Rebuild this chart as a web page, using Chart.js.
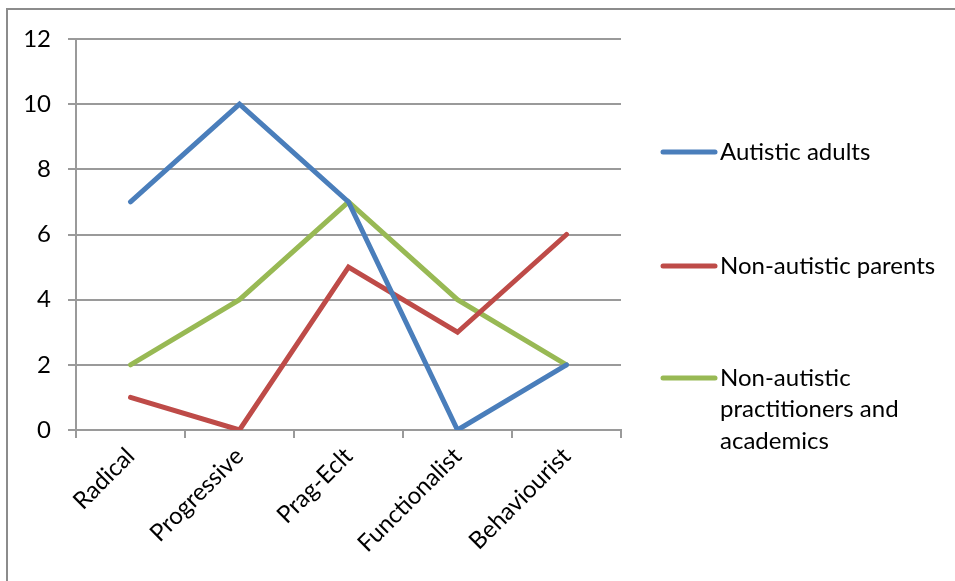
<!DOCTYPE html>
<html>
<head>
<meta charset="utf-8">
<script src="https://cdn.jsdelivr.net/npm/chart.js@4/dist/chart.umd.min.js"></script>
<style>
  html, body { margin: 0; padding: 0; background: #fff; }
  #wrap { width: 955px; height: 581px; position: relative; }
</style>
</head>
<body>
<div id="wrap"><canvas id="c" width="955" height="581"></canvas></div>
<script>
// Categories along the x axis
const categories = ['Radical', 'Progressive', 'Prag-Eclt', 'Functionalist', 'Behaviourist'];

// Series values
const autisticAdults = [7, 10, 7, 0, 2];
const nonAutisticParents = [1, 0, 5, 3, 6];
const practitionersAcademics = [2, 4, 7, 4, 2];

// Legend labels (wrapped lines)
const seriesNames = [
  ['Autistic adults'],
  ['Non-autistic parents'],
  ['Non-autistic', 'practitioners and', 'academics']
];

// Y axis ticks
const yTicks = [0, 2, 4, 6, 8, 10, 12];

const FONT = 'Lato, "Liberation Sans", sans-serif';
const FSIZE = 24;
const GRID = '#9a9a9a';

// Frame around the chart and a side legend
const framePlugin = {
  id: 'frame',
  beforeDraw(chart) {
    const ctx = chart.ctx;
    ctx.save();
    ctx.fillStyle = '#ffffff';
    ctx.fillRect(0, 0, chart.width, chart.height);
    ctx.strokeStyle = '#8c8c8c';
    ctx.lineWidth = 2;
    ctx.beginPath();
    ctx.moveTo(7, chart.height);
    ctx.lineTo(7, 9);
    ctx.lineTo(chart.width, 9);
    ctx.stroke();
    ctx.restore();
  },
  afterDraw(chart) {
    const ctx = chart.ctx;
    const rows = [152, 266, 378];
    const lineH = 31.5;
    ctx.save();
    chart.data.datasets.forEach((ds, i) => {
      const y = rows[i];
      ctx.strokeStyle = ds.borderColor;
      ctx.lineWidth = 5;
      ctx.lineCap = 'round';
      ctx.beginPath();
      ctx.moveTo(663, y);
      ctx.lineTo(715, y);
      ctx.stroke();
      ctx.fillStyle = '#000';
      ctx.font = FSIZE + 'px ' + FONT;
      ctx.textBaseline = 'middle';
      ctx.textAlign = 'left';
      seriesNames[i].forEach((t, k) => ctx.fillText(t, 720, y + k * lineH));
    });
    ctx.restore();
  }
};

const mk = (label, data, color) => ({
  label, data,
  borderColor: color,
  backgroundColor: color,
  borderWidth: 5,
  borderCapStyle: 'round',
  borderJoinStyle: 'miter',
  pointRadius: 0,
  tension: 0,
  fill: false
});

new Chart(document.getElementById('c'), {
  type: 'line',
  data: {
    labels: categories,
    datasets: [
      mk(seriesNames[0].join(' '), autisticAdults, '#4a7ebb'),
      mk(seriesNames[1].join(' '), nonAutisticParents, '#be4b48'),
      mk(seriesNames[2].join(' '), practitionersAcademics, '#98b954')
    ]
  },
  options: {
    responsive: false,
    animation: false,
    layout: { padding: { left: 0, right: 334, top: 39, bottom: 0 } },
    plugins: { legend: { display: false }, tooltip: { enabled: false } },
    scales: {
      x: {
        offset: true,
        grid: { offset: true, drawOnChartArea: false, drawTicks: true, tickLength: 8, color: GRID, lineWidth: 2 },
        border: { display: true, color: GRID, width: 2 },
        ticks: { color: '#000', font: { family: FONT, size: FSIZE }, minRotation: 45, maxRotation: 45, padding: 4, autoSkip: false },
        afterFit(scale) { scale.height = 151; }
      },
      y: {
        min: 0, max: 12,
        afterBuildTicks(scale) { scale.ticks = yTicks.map(v => ({ value: v })); },
        grid: { color: GRID, lineWidth: 2, tickLength: 8 },
        border: { display: true, color: GRID, width: 2 },
        ticks: { color: '#000', font: { family: FONT, size: FSIZE }, padding: 17 },
        afterFit(scale) { scale.width = 76; }
      }
    }
  },
  plugins: [framePlugin]
});
</script>
</body>
</html>
